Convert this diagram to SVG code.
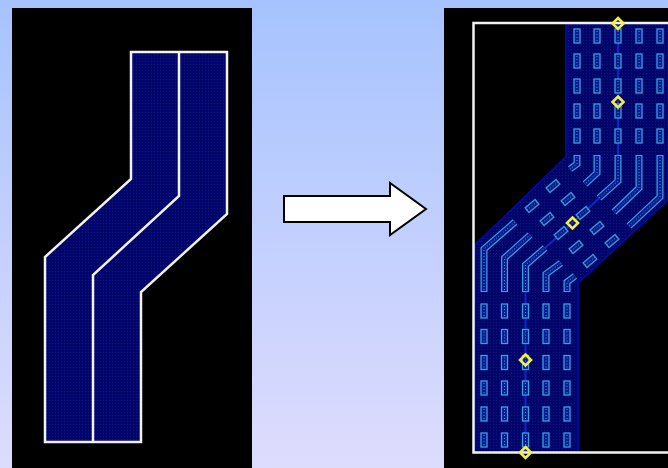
<svg xmlns="http://www.w3.org/2000/svg" width="668" height="468" viewBox="0 0 668 468">
<style>
.wl{fill:none;stroke:#f2f2f2;stroke-width:2.500}
.po{fill:none;stroke:#3aa0e0;stroke-width:7;stroke-linejoin:miter}
.pi{fill:none;stroke:#0a1c90;stroke-width:4.500;stroke-linejoin:miter}
.pd{fill:none;stroke:#5a90d0;stroke-width:1;stroke-dasharray:1 2}
.dm{fill:none;stroke:#f4f040;stroke-width:2.600}
</style>
<defs>
<linearGradient id="bg" x1="0" y1="0" x2="0" y2="1"><stop offset="0" stop-color="#a6c3ff"/><stop offset="1" stop-color="#dedcfd"/></linearGradient>
<pattern id="tex" width="3" height="3" patternUnits="userSpaceOnUse"><rect width="3" height="3" fill="#02046e"/><rect x="1" y="1" width="1" height="1" fill="#10186c"/></pattern>
<g id="pad"><rect x="-3" y="-7" width="6" height="14" fill="#0a1c90" stroke="#3aa0e0" stroke-width="1.300"/><line x1="0" y1="-5" x2="0" y2="5" class="pd"/></g>
<g id="dpad"><rect x="-6.500" y="-3" width="13" height="6" fill="#0a1c90" stroke="#3a98d0" stroke-width="1.300" transform="rotate(-40)"/><line x1="-5" y1="4" x2="5" y2="-4" class="pd"/></g>
<path id="dia" class="dm" d="M0-5.500L5.500 0L0 5.500L-5.500 0Z"/>
</defs>
<rect width="668" height="468" fill="url(#bg)"/>
<g id="left-panel">
<rect x="12" y="8" width="240" height="460" fill="#000"/>
<path fill="url(#tex)" d="M131 52H227V214L141 292V442H45V257L131 179Z"/>
<path class="wl" d="M131 52H227V214L141 292V442H45V257L131 179Z"/>
<path class="wl" d="M179 52V196L93 275V442"/>
</g>
<g id="arrow"><path d="M284 196H390V183L426 209L390 235V222H284Z" fill="#fff" stroke="#000" stroke-width="2"/></g>
<g id="right-panel">
<rect x="444" y="8" width="224" height="460" fill="#000"/>
<path d="M566 23H668V200L578 283V452H475V245L566 157Z" fill="url(#tex)" stroke="#000a9c" stroke-width="2"/>
<path d="M618 23V181L525.500 266V452" fill="none" stroke="#0a28c8" stroke-width="2"/>
<path class="wl" d="M668 23H473.500V452.500H668"/>
</g>
<g id="pads-top">
<use href="#pad" x="577" y="36"/><use href="#pad" x="597" y="36"/><use href="#pad" x="618" y="36"/><use href="#pad" x="639" y="36"/><use href="#pad" x="660" y="36"/>
<use href="#pad" x="577" y="61"/><use href="#pad" x="597" y="61"/><use href="#pad" x="618" y="61"/><use href="#pad" x="639" y="61"/><use href="#pad" x="660" y="61"/>
<use href="#pad" x="577" y="86"/><use href="#pad" x="597" y="86"/><use href="#pad" x="618" y="86"/><use href="#pad" x="639" y="86"/><use href="#pad" x="660" y="86"/>
<use href="#pad" x="577" y="111"/><use href="#pad" x="597" y="111"/><use href="#pad" x="618" y="111"/><use href="#pad" x="639" y="111"/><use href="#pad" x="660" y="111"/>
<use href="#pad" x="577" y="136"/><use href="#pad" x="597" y="136"/><use href="#pad" x="618" y="136"/><use href="#pad" x="639" y="136"/><use href="#pad" x="660" y="136"/>
</g>
<g id="pads-bottom">
<use href="#pad" x="484" y="311"/><use href="#pad" x="504.500" y="311"/><use href="#pad" x="525.500" y="311"/><use href="#pad" x="546" y="311"/><use href="#pad" x="567" y="311"/>
<use href="#pad" x="484" y="336.500"/><use href="#pad" x="504.500" y="336.500"/><use href="#pad" x="525.500" y="336.500"/><use href="#pad" x="546" y="336.500"/><use href="#pad" x="567" y="336.500"/>
<use href="#pad" x="484" y="362.500"/><use href="#pad" x="504.500" y="362.500"/><use href="#pad" x="525.500" y="362.500"/><use href="#pad" x="546" y="362.500"/><use href="#pad" x="567" y="362.500"/>
<use href="#pad" x="484" y="388"/><use href="#pad" x="504.500" y="388"/><use href="#pad" x="525.500" y="388"/><use href="#pad" x="546" y="388"/><use href="#pad" x="567" y="388"/>
<use href="#pad" x="484" y="414"/><use href="#pad" x="504.500" y="414"/><use href="#pad" x="525.500" y="414"/><use href="#pad" x="546" y="414"/><use href="#pad" x="567" y="414"/>
<use href="#pad" x="484" y="440"/><use href="#pad" x="504.500" y="440"/><use href="#pad" x="525.500" y="440"/><use href="#pad" x="546" y="440"/><use href="#pad" x="567" y="440"/>
</g>
<g id="pads-bent-top">
<path class="po" d="M577 155V164L570 169"/><path class="pi" d="M577 156V164L570 169"/><path class="pd" d="M577 157V164L570 169"/>
<path class="po" d="M597 155V173L585 184"/><path class="pi" d="M597 156V173L585 184"/><path class="pd" d="M597 157V173L585 184"/>
<path class="po" d="M618 155V181L599 198"/><path class="pi" d="M618 156V181L599 198"/><path class="pd" d="M618 157V181L599 198"/>
<path class="po" d="M639 155V188L614 212"/><path class="pi" d="M639 156V188L614 212"/><path class="pd" d="M639 157V188L614 212"/>
<path class="po" d="M660 155V197L629 226"/><path class="pi" d="M660 156V197L629 226"/><path class="pd" d="M660 157V197L629 226"/>
</g>
<g id="pads-bent-bottom">
<path class="po" d="M484 292V249L515 222"/><path class="pi" d="M484 291V249L515 222"/><path class="pd" d="M484 290V249L515 222"/>
<path class="po" d="M504.500 292V258L530 235"/><path class="pi" d="M504.500 291V258L530 235"/><path class="pd" d="M504.500 290V258L530 235"/>
<path class="po" d="M525.500 292V265L545 248"/><path class="pi" d="M525.500 291V265L545 248"/><path class="pd" d="M525.500 290V265L545 248"/>
<path class="po" d="M546 292V274L561 263"/><path class="pi" d="M546 291V274L561 263"/><path class="pd" d="M546 290V274L561 263"/>
<path class="po" d="M567 292V282L575 276"/><path class="pi" d="M567 291V282L575 276"/><path class="pd" d="M567 290V282L575 276"/>
</g>
<g id="pads-diagonal">
<use href="#dpad" x="553" y="186"/><use href="#dpad" x="532" y="206"/><use href="#dpad" x="547" y="219"/><use href="#dpad" x="568" y="199"/><use href="#dpad" x="583" y="213"/>
<use href="#dpad" x="561" y="233"/><use href="#dpad" x="597" y="228"/><use href="#dpad" x="576" y="247"/><use href="#dpad" x="612" y="241"/><use href="#dpad" x="590" y="261"/>
</g>
<g id="markers">
<use href="#dia" x="618" y="23.500"/><use href="#dia" x="618" y="102"/><use href="#dia" x="572.500" y="223"/><use href="#dia" x="525.500" y="360"/><use href="#dia" x="525.500" y="452.500"/>
</g>
</svg>
